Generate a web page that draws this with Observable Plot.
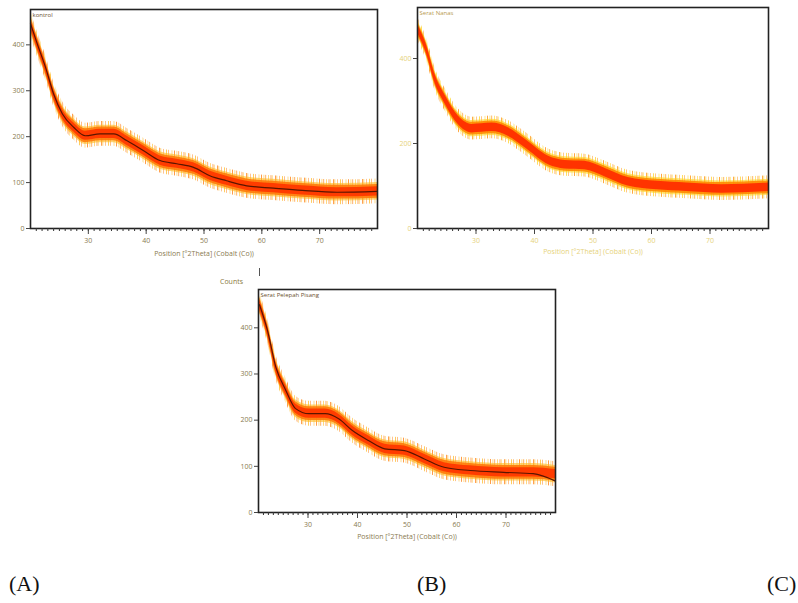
<!DOCTYPE html>
<html>
<head>
<meta charset="utf-8">
<script src="https://cdn.jsdelivr.net/npm/d3@7"></script>
<script src="https://cdn.jsdelivr.net/npm/@observablehq/plot@0.6"></script>
<style>
  body { margin: 0; background: #fff; }
  #root { position: relative; width: 798px; height: 603px; overflow: hidden; background: #fff; }
  .panel { position: absolute; }
  .tag { position: absolute; font-family: "Liberation Serif", "DejaVu Serif", serif; font-size: 22px; color: #111; }
</style>
</head>
<body>
<div id="root">
  <div id="pA" class="panel" style="left:0;top:0"></div>
  <div id="pB" class="panel" style="left:400px;top:0"></div>
  <div id="pC" class="panel" style="left:200px;top:265px"></div>
  <div style="position:absolute;left:220px;top:277px;font:7px 'Open Sans',sans-serif;color:#8a7a40">Counts</div>
  <div style="position:absolute;left:259px;top:268px;width:1px;height:8px;background:#555"></div>
  <div class="tag" style="left:9px;top:571px">(A)</div>
  <div class="tag" style="left:417px;top:571px">(B)</div>
  <div class="tag" style="left:767px;top:571px">(C)</div>
</div>
<script>
// ---- Data ----
const xTicks = [30, 40, 50, 60, 70];
const yTicksAC = [0, 100, 200, 300, 400];
const yTicksB = [0, 200, 400];

// (A) kontrol
const anglesA = [20, 21.2, 22.6, 24, 25.5, 27.5, 29.5, 32, 34.4, 36.7, 39.5, 42.4, 45.3, 48.2, 51, 53.9, 57.4, 62, 67, 73, 80];
const countsA = [446, 401, 351, 293, 250, 220, 202, 206, 206, 191, 170, 148, 141, 133, 115, 104, 93, 88, 83, 79, 81];

// (B) Serat Nanas
const anglesB = [20, 21.4, 23.1, 24.8, 27, 29.3, 32.7, 35.5, 38.4, 42.4, 45.2, 48.6, 52, 56, 61, 66, 72, 80];
const countsB = [470, 427, 348, 301, 254, 235, 238, 227, 200, 160, 150, 148, 132, 110, 101, 97, 93, 97];

// (C) Serat Pelepah Pisang
const anglesC = [20.2, 21.8, 23.5, 25.5, 27.5, 30.2, 33.5, 36.2, 38.9, 42.2, 45.5, 49.5, 53.5, 57.5, 62.8, 69.5, 75.5, 80];
const countsC = [450, 395, 315, 265, 225, 214, 214, 203, 178, 156, 138, 134, 116, 98, 91, 87, 87, 83];
const fitC    = [450, 395, 315, 265, 225, 214, 214, 203, 178, 156, 138, 134, 116, 98, 91, 87, 84, 68];

const xLabel = "Position [°2Theta] (Cobalt (Co))";

function toRows(angles, counts, fit) {
  return angles.map((a, i) => ({a, c: counts[i],
    lo0: counts[i] - 27, hi0: counts[i] + 27,
    lo1: counts[i] - 19, hi1: counts[i] + 19,
    lo2: counts[i] - 15, hi2: counts[i] + 15,
    lo3: counts[i] - 10, hi3: counts[i] + 10,
    f: fit ? fit[i] : null}));
}

// decorative stripe layout for the noisy fringe (style only): [x offset, width, use mid colour?, opacity]
const stripeStyle = [[0, 1, 1, 0.75], [2.5, 0.8, 0, 0.6], [4, 1.2, 1, 0.5], [7, 0.8, 0, 0.7], [9.5, 1, 1, 0.65],
  [11, 0.8, 0, 0.5], [14, 1.2, 1, 0.7], [15.5, 0.8, 0, 0.55], [18, 1, 1, 0.45], [21, 1, 0, 0.7],
  [23, 0.8, 1, 0.6], [26.5, 1, 0, 0.5]];

let pid = 0;
function panel(o) {
  const rows = toRows(o.angles, o.counts, o.fit);
  const id = "stripes" + (pid++);
  const marks = [
    Plot.areaY(rows, {x: "a", y1: "lo0", y2: "hi0", fill: `url(#${id})`, curve: "monotone-x"}),
    Plot.areaY(rows, {x: "a", y1: "lo1", y2: "hi1", fill: o.halo, fillOpacity: 0.6, curve: "monotone-x"}),
    Plot.areaY(rows, {x: "a", y1: "lo2", y2: "hi2", fill: o.mid, fillOpacity: 0.9, curve: "monotone-x"}),
    Plot.areaY(rows, {x: "a", y1: "lo3", y2: "hi3", fill: o.core, curve: "monotone-x"}),
  ];
  if (o.fit) marks.push(Plot.lineY(rows, {x: "a", y: "f", stroke: "#5a1600", strokeWidth: 1.2, curve: "monotone-x"}));
  marks.push(
    Plot.frame({stroke: "#222", strokeWidth: 1.6}),
    Plot.axisX({ticks: d3.range(21, 80), tickSize: 3, tickFormat: () => "", stroke: "#333", label: null}),
    Plot.axisX({ticks: xTicks, tickSize: 6, tickPadding: 4, stroke: "#444", fill: o.text,
                label: xLabel, labelAnchor: "center", labelArrow: "none", labelOffset: o.labelOffset}),
    Plot.axisY({ticks: o.yTicks, tickSize: 4, tickPadding: 2, stroke: "#444", fill: o.text, label: null}),
    Plot.text([o.title], {frameAnchor: "top-left", dx: 2, dy: 3, fontSize: 6, fill: o.titleColor, textAnchor: "start"})
  );
  const chart = Plot.plot({
    width: o.width, height: o.height,
    marginLeft: o.ml, marginRight: o.mr, marginTop: o.mt, marginBottom: o.mb,
    x: {domain: [20, 80]},
    y: {domain: [0, o.yMax]},
    style: {fontSize: "7px", fontFamily: "'Open Sans', sans-serif", background: "transparent", overflow: "visible"},
    marks
  });
  const ns = "http://www.w3.org/2000/svg";
  const defs = document.createElementNS(ns, "defs");
  const pat = document.createElementNS(ns, "pattern");
  pat.setAttribute("id", id);
  pat.setAttribute("patternUnits", "userSpaceOnUse");
  pat.setAttribute("width", "29");
  pat.setAttribute("height", "40");
  for (const [x, w, m, op] of stripeStyle) {
    const r = document.createElementNS(ns, "rect");
    r.setAttribute("x", x); r.setAttribute("y", 0);
    r.setAttribute("width", w); r.setAttribute("height", 40);
    r.setAttribute("fill", m ? o.mid : o.halo); r.setAttribute("fill-opacity", op);
    pat.append(r);
  }
  defs.append(pat);
  chart.insertBefore(defs, chart.firstChild);
  return chart;
}

document.getElementById("pA").append(panel({
  angles: anglesA, counts: countsA, fit: countsA, yMax: 477, yTicks: yTicksAC,
  width: 400, height: 270, ml: 30, mr: 23, mt: 9, mb: 42, labelOffset: 27,
  halo: "#ffb81a", mid: "#ff7a0a", core: "#ff3c00", text: "#8a7a50", titleColor: "#6b5030", title: "kontrol"
}));

document.getElementById("pB").append(panel({
  angles: anglesB, counts: countsB, fit: null, yMax: 520, yTicks: yTicksB,
  width: 398, height: 270, ml: 17, mr: 30, mt: 7, mb: 42, labelOffset: 25,
  halo: "#ffd21a", mid: "#ff8a00", core: "#ff3300", text: "#e6d27a", titleColor: "#b89a50", title: "Serat Nanas"
}));

document.getElementById("pC").append(panel({
  angles: anglesC, counts: countsC, fit: fitC, yMax: 483, yTicks: yTicksAC,
  width: 380, height: 285, ml: 58, mr: 25, mt: 24, mb: 38, labelOffset: 26,
  halo: "#ffb81a", mid: "#ff7a0a", core: "#ff3c00", text: "#8a7a50", titleColor: "#6b5030", title: "Serat Pelepah Pisang"
}));
</script>
</body>
</html>
